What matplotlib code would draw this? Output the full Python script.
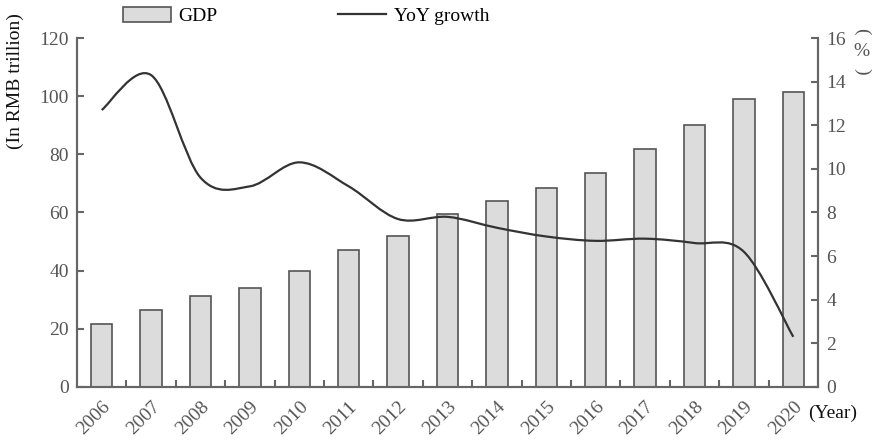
import numpy as np
import matplotlib.pyplot as plt
from matplotlib.path import Path
from matplotlib.patches import PathPatch, Patch
from matplotlib.lines import Line2D

plt.rcParams['font.family'] = ['Liberation Serif', 'DejaVu Serif']

years = ["2006", "2007", "2008", "2009", "2010", "2011", "2012", "2013",
         "2014", "2015", "2016", "2017", "2018", "2019", "2020"]
gdp = [21.5, 26.5, 31.2, 34.0, 39.8, 47.1, 52.0, 59.4, 64.0, 68.4, 73.7,
       82.0, 90.0, 98.9, 101.4]
growth = [12.7, 14.3, 9.6, 9.2, 10.3, 9.2, 7.7, 7.8, 7.3, 6.9, 6.7, 6.8,
          6.6, 6.2, 2.3]

axis_col = "#666666"
label_col = "#555555"
line_col = "#333333"


def smooth_path(xs, ys):
    # Catmull-Rom style bezier through the points
    pts = np.column_stack([xs, ys]).astype(float)
    n = len(pts)
    verts = [pts[0]]
    codes = [Path.MOVETO]
    for i in range(n - 1):
        p0 = pts[max(i - 1, 0)]
        p1 = pts[i]
        p2 = pts[i + 1]
        p3 = pts[min(i + 2, n - 1)]
        verts += [p1 + (p2 - p0) / 6, p2 - (p3 - p1) / 6, p2]
        codes += [Path.CURVE4] * 3
    return Path(verts, codes)


fig = plt.figure(figsize=(8.77, 4.4), dpi=100)
ax = fig.add_axes([0.0878, 0.1205, 0.8449, 0.7931])
ax2 = ax.twinx()

x = np.arange(len(years))
ax.bar(x, gdp, width=0.43, color="#dcdcdc", edgecolor="#555555", linewidth=1.2, zorder=2)
ax.set_xlim(-0.5, len(years) - 0.5)
ax.set_ylim(0, 120)
ax.set_yticks(range(0, 121, 20))

ax2.add_patch(PathPatch(smooth_path(x, growth), fill=False, edgecolor=line_col,
                        linewidth=1.6, zorder=3))
ax2.set_ylim(0, 16)
ax2.set_yticks(range(0, 17, 2))

for a in (ax, ax2):
    a.spines["top"].set_visible(False)
    for s in ("left", "right", "bottom"):
        a.spines[s].set_color(axis_col)
        a.spines[s].set_linewidth(1.5)

ax.set_xticks(x)
ax.set_xticklabels(years, rotation=45, ha="right", va="top", rotation_mode="anchor")
ax.set_xticks(x[:-1] + 0.5, minor=True)
ax.tick_params(axis="x", which="major", length=0, pad=8, labelsize=14, labelcolor=label_col)
ax.tick_params(axis="x", which="minor", direction="in", length=5, width=1.5, color=axis_col)
ax.tick_params(axis="y", direction="in", length=5, width=1.5, color=axis_col,
               labelsize=14, labelcolor=label_col, pad=6)
ax2.tick_params(axis="y", direction="in", length=5, width=1.5, color=axis_col,
                labelsize=14, labelcolor=label_col, pad=6)

fig.text(15 / 877, 1 - 81 / 440, "(In RMB trillion)", rotation=90, ha="center",
         va="center", fontsize=14, color="#111111")
fig.text(808 / 877, 1 - 413 / 440, "(Year)", ha="left", va="center", fontsize=14,
         color="#111111")

# vertical "(%)" on the right axis
fig.text(862 / 877, 1 - 31 / 440, "(", rotation=-90, ha="center", va="center",
         fontsize=14, color=label_col)
fig.text(861 / 877, 1 - 52 / 440, "%", ha="center", va="center", fontsize=14,
         color=label_col)
fig.text(862 / 877, 1 - 71 / 440, ")", rotation=-90, ha="center", va="center",
         fontsize=14, color=label_col)

handles = [Patch(facecolor="#dcdcdc", edgecolor="#555555", linewidth=1.2),
           Line2D([], [], color=line_col, linewidth=1.6)]
fig.legend(handles, ["GDP", "YoY growth"], loc="center left",
           bbox_to_anchor=(123 / 877, 1 - 16 / 440), ncol=2, frameon=False,
           fontsize=14, borderpad=0, borderaxespad=0, handlelength=2.45,
           handleheight=0.85, handletextpad=0.4, columnspacing=6.2)

fig.savefig("out.png", dpi=100)
